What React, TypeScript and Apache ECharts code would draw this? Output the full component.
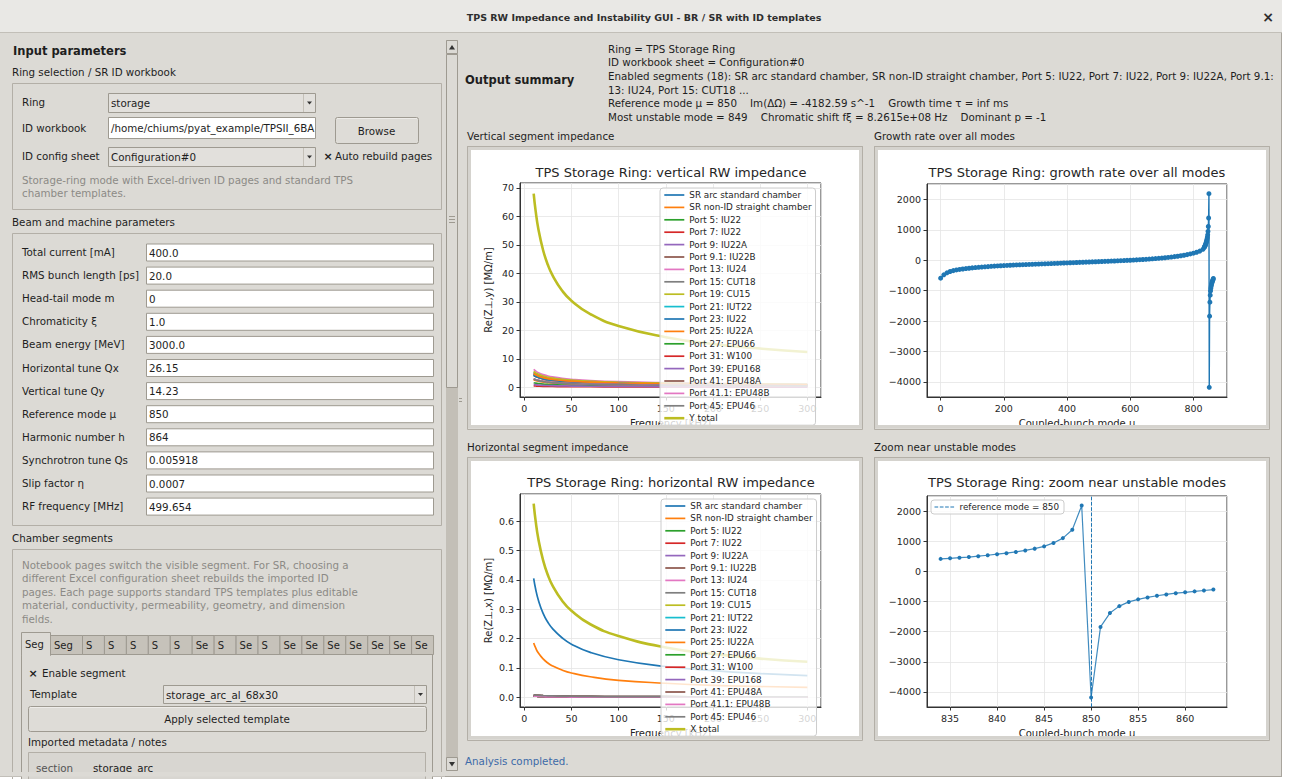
import React, { useEffect, useRef } from 'react';
import * as echarts from 'echarts';

const FONT = 'DejaVu Sans';
const BG = '#dcdad5';
const BORDER = '#9e9a91';
const FRAME = '#b3afa7';
const INK = '#1e1e1e';
const MUTED = '#8c8a86';
const AXIS_INK = '#262626';
const TAB10 = ['#1f77b4', '#ff7f0e', '#2ca02c', '#d62728', '#9467bd', '#8c564b', '#e377c2', '#7f7f7f', '#bcbd22', '#17becf'];

const WINDOW_TITLE = 'TPS RW Impedance and Instability GUI - BR / SR with ID templates';
const NB = '\u00a0';
const SUMMARY_LINES = [
  'Ring = TPS Storage Ring',
  'ID workbook sheet = Configuration#0',
  'Enabled segments (18): SR arc standard chamber, SR non-ID straight chamber, Port 5: IU22, Port 7: IU22, Port 9: IU22A, Port 9.1:',
  '13: IU24, Port 15: CUT18 ...',
  `Reference mode μ = 850${NB}${NB}${NB}${NB}Im(ΔΩ) = -4182.59 s^-1${NB}${NB}${NB}${NB}Growth time τ = inf ms`,
  `Most unstable mode = 849${NB}${NB}${NB}${NB}Chromatic shift fξ = 8.2615e+08 Hz${NB}${NB}${NB}${NB}Dominant p = -1`,
];
const BEAM_LABELS = ['Total current [mA]', 'RMS bunch length [ps]', 'Head-tail mode m', 'Chromaticity ξ', 'Beam energy [MeV]', 'Horizontal tune Qx', 'Vertical tune Qy', 'Reference mode μ', 'Harmonic number h', 'Synchrotron tune Qs', 'Slip factor η', 'RF frequency [MHz]'];
const BEAM_VALUES = ['400.0', '20.0', '0', '1.0', '3000.0', '26.15', '14.23', '850', '864', '0.005918', '0.0007', '499.654'];
const CHAMBER_NOTE = [
  'Notebook pages switch the visible segment. For SR, choosing a',
  'different Excel configuration sheet rebuilds the imported ID',
  'pages. Each page supports standard TPS templates plus editable',
  'material, conductivity, permeability, geometry, and dimension',
  'fields.',
];
const TAB_LABELS = ['Seg', 'Seg', 'S', 'S', 'S', 'S', 'S', 'Se', 'S', 'Se', 'S', 'Se', 'Se', 'Se', 'Se', 'Se', 'Se', 'Se'];

// ---- impedance data (frequency in kHz, MΩ/m) ----
const FREQ_KHZ = [10, 12, 15, 20, 25, 30, 40, 50, 70, 100, 150, 200, 250, 300];
const SEGMENT_NAMES = ['SR arc standard chamber', 'SR non-ID straight chamber', 'Port 5: IU22', 'Port 7: IU22', 'Port 9: IU22A', 'Port 9.1: IU22B', 'Port 13: IU24', 'Port 15: CUT18', 'Port 19: CU15', 'Port 21: IUT22', 'Port 23: IU22', 'Port 25: IU22A', 'Port 27: EPU66', 'Port 31: W100', 'Port 39: EPU168', 'Port 41: EPU48A', 'Port 41.1: EPU48B', 'Port 45: EPU46'];
const ZY_48 = [4.8, 4.38, 3.92, 3.39, 3.04, 2.77, 2.4, 2.15, 1.81, 1.52, 1.24, 1.07, 0.96, 0.88];
const ZY_26 = [2.6, 2.37, 2.12, 1.84, 1.64, 1.5, 1.3, 1.16, 0.98, 0.82, 0.67, 0.58, 0.52, 0.48];
const ZY_42 = [4.2, 3.83, 3.43, 2.97, 2.65, 2.42, 2.1, 1.88, 1.59, 1.33, 1.08, 0.94, 0.84, 0.77];
const ZY_63 = [6.3, 5.75, 5.14, 4.45, 3.98, 3.64, 3.15, 2.82, 2.38, 1.99, 1.63, 1.41, 1.26, 1.15];
const ZY_53 = [5.3, 4.84, 4.32, 3.75, 3.35, 3.06, 2.65, 2.37, 2.0, 1.67, 1.37, 1.19, 1.06, 0.97];
const ZY_56 = [5.6, 5.11, 4.57, 3.96, 3.54, 3.23, 2.8, 2.5, 2.12, 1.77, 1.44, 1.25, 1.12, 1.02];
const ZY_44 = [4.4, 4.02, 3.59, 3.11, 2.78, 2.54, 2.2, 1.97, 1.66, 1.39, 1.14, 0.99, 0.88, 0.81];
const ZY_16 = [1.6, 1.46, 1.31, 1.13, 1.01, 0.92, 0.8, 0.72, 0.6, 0.51, 0.41, 0.36, 0.32, 0.29];
const ZY_05 = [0.5, 0.46, 0.41, 0.35, 0.32, 0.29, 0.25, 0.22, 0.19, 0.16, 0.13, 0.11, 0.1, 0.09];
const ZY_10 = [1.0, 0.91, 0.82, 0.71, 0.63, 0.58, 0.5, 0.45, 0.38, 0.32, 0.26, 0.22, 0.2, 0.18];
const ZY_30 = [3.0, 2.74, 2.45, 2.12, 1.9, 1.73, 1.5, 1.34, 1.13, 0.95, 0.77, 0.67, 0.6, 0.55];
const ZY_29 = [2.9, 2.65, 2.37, 2.05, 1.83, 1.67, 1.45, 1.3, 1.1, 0.92, 0.75, 0.65, 0.58, 0.53];
const ZY_SEGMENTS = [ZY_48, ZY_26, ZY_42, ZY_42, ZY_48, ZY_48, ZY_63, ZY_53, ZY_56, ZY_44, ZY_42, ZY_48, ZY_16, ZY_05, ZY_10, ZY_30, ZY_30, ZY_29];
const ZY_TOTAL = [68.0, 62.1, 55.5, 48.1, 43.0, 39.3, 34.0, 30.4, 25.7, 21.5, 17.6, 15.2, 13.6, 12.4];
const ZX_ARC = [0.405, 0.37, 0.331, 0.286, 0.256, 0.234, 0.203, 0.181, 0.153, 0.128, 0.105, 0.091, 0.081, 0.074];
const ZX_NON_ID = [0.185, 0.169, 0.151, 0.131, 0.117, 0.107, 0.093, 0.083, 0.07, 0.058, 0.048, 0.041, 0.037, 0.034];
const ZX_ID_SMALL = [0.004, 0.0037, 0.0033, 0.0028, 0.0025, 0.0023, 0.002, 0.0018, 0.0015, 0.0013, 0.001, 0.0009, 0.0008, 0.0007];
const ZX_ID_WIDE = [0.008, 0.0073, 0.0065, 0.0057, 0.0051, 0.0046, 0.004, 0.0036, 0.003, 0.0025, 0.0021, 0.0018, 0.0016, 0.0015];
const ZX_SEGMENTS = [ZX_ARC, ZX_NON_ID, ZX_ID_SMALL, ZX_ID_SMALL, ZX_ID_SMALL, ZX_ID_WIDE, ZX_ID_SMALL, ZX_ID_WIDE, ZX_ID_SMALL, ZX_ID_SMALL, ZX_ID_SMALL, ZX_ID_SMALL, ZX_ID_SMALL, ZX_ID_SMALL, ZX_ID_SMALL, ZX_ID_WIDE, ZX_ID_SMALL, ZX_ID_WIDE];
const ZX_TOTAL = [0.66, 0.603, 0.539, 0.467, 0.417, 0.381, 0.33, 0.295, 0.249, 0.209, 0.17, 0.148, 0.132, 0.121];

// ---- growth rate data (s^-1) ----
const MODES_COARSE = [0, 10, 20, 30, 40, 50, 60, 70, 80, 90, 100, 110, 120, 130, 140, 150, 160, 170, 180, 190, 200, 210, 220, 230, 240, 250, 260, 270, 280, 290, 300, 310, 320, 330, 340, 350, 360, 370, 380, 390, 400, 410, 420, 430, 440, 450, 460, 470, 480, 490, 500, 510, 520, 530, 540, 550, 560, 570, 580, 590, 600, 610, 620, 630, 640, 650, 660, 670, 680, 690, 700, 710, 720, 730, 740, 750, 760, 770, 780, 790, 800, 810, 820, 830];
const GROWTH_COARSE = [-590, -480, -415, -372, -342, -320, -303, -288, -275, -263, -252, -242, -233, -225, -217, -210, -200, -194, -187, -181, -176, -170, -165, -160, -155, -151, -146, -142, -138, -134, -130, -126, -121, -117, -113, -109, -105, -101, -97, -92, -88, -84, -80, -75, -71, -67, -63, -58, -54, -50, -46, -41, -37, -33, -28, -24, -19, -14, -10, -5, 0, 6, 12, 18, 24, 31, 38, 46, 54, 63, 72, 82, 93, 105, 118, 132, 147, 165, 185, 208, 232, 262, 300, 360];
const MODES_ZOOM = [834, 835, 836, 837, 838, 839, 840, 841, 842, 843, 844, 845, 846, 847, 848, 849, 850, 851, 852, 853, 854, 855, 856, 857, 858, 859, 860, 861, 862, 863];
const GROWTH_ZOOM = [420, 440, 460, 480, 510, 540, 575, 610, 650, 700, 760, 835, 950, 1110, 1390, 2190, -4182.59, -1840, -1380, -1150, -1010, -925, -860, -805, -760, -720, -690, -660, -630, -600];
const REFERENCE_MODE = 850;

function buildGui(): any[] {
  const el: any[] = [];
  const T = (x: number, y: number, text: string, o: any = {}) =>
    el.push({
      type: 'text', x, y, z: o.z ?? -40, silent: true,
      style: {
        text, fontFamily: FONT, fontSize: o.size ?? 10.3, fontWeight: o.bold ? 'bold' : 'normal',
        fill: o.color ?? INK, align: o.align ?? 'left', verticalAlign: 'middle',
        ...(o.width ? { width: o.width, overflow: 'truncate', ellipsis: '' } : {}),
      },
    });
  const R = (x: number, y: number, w: number, h: number, fill: string, stroke: string | null = null, z = -60, r = 0) =>
    el.push({ type: 'rect', z, silent: true, shape: { x, y, width: w, height: h, r }, style: { fill, stroke, lineWidth: 1 } });
  const L = (x1: number, y1: number, x2: number, y2: number, color: string, z = -50, w = 1) =>
    el.push({ type: 'line', z, silent: true, shape: { x1, y1, x2, y2 }, style: { stroke: color, lineWidth: w } });
  const P = (points: number[][], fill: string, z = -40) => el.push({ type: 'polygon', z, silent: true, shape: { points }, style: { fill } });

  const combo = (x: number, y: number, w: number, h: number, text: string) => {
    R(x + 0.5, y + 0.5, w, h, '#e2e0dc', BORDER, -55);
    L(x + w - 11.5, y + 1, x + w - 11.5, y + h, '#c4c0b8', -50);
    const cy = y + h / 2 + 0.5;
    P([[x + w - 8, cy - 1.5], [x + w - 3, cy - 1.5], [x + w - 5.5, cy + 1.5]], '#333');
    T(x + 3, cy, text);
  };
  const entry = (x: number, y: number, w: number, h: number, text: string) => {
    R(x + 0.5, y + 0.5, w, h, '#ffffff', BORDER, -55);
    T(x + 3, y + h / 2 + 0.5, text, { width: w - 2 });
  };
  const button = (x: number, y: number, w: number, h: number, text: string) => {
    R(x + 0.5, y + 0.5, w, h, '#dedcd7', BORDER, -55, 2);
    L(x + 2, y + 1.5, x + w - 1, y + 1.5, '#eeece9', -50);
    T(x + w / 2, y + h / 2 + 0.5, text, { align: 'center' });
  };
  const check = (x: number, y: number) => T(x, y, '×', { bold: true, size: 11, align: 'center' });

  // window
  R(0, 0, 1292, 779, '#ffffff', null, -100);
  R(0, 0, 1282, 777, BG, null, -99);
  L(1281.5, 0, 1281.5, 777, '#a9a59d', -98);
  L(0, 776.5, 1282, 776.5, '#a9a59d', -98);
  R(0, 0, 1282, 32, '#e9e8e5', null, -98);
  L(0, 32.5, 1282, 32.5, '#c2bfb8', -97);
  T(644, 17, WINDOW_TITLE, { bold: true, size: 9.5, align: 'center', color: '#2e2e2e' });
  T(1268, 17, '×', { bold: true, size: 14, align: 'center', color: '#2e2e2e' });

  // left pane
  T(13, 51, 'Input parameters', { bold: true, size: 11.5 });
  T(12, 72, 'Ring selection / SR ID workbook');
  R(12.5, 83.5, 429, 126, 'none', FRAME, -60);
  T(22, 102, 'Ring');
  combo(108, 93, 207, 19, 'storage');
  T(22, 128, 'ID workbook');
  entry(108, 117, 207, 21, '/home/chiums/pyat_example/TPSII_6BA');
  button(335, 117, 83, 26, 'Browse');
  T(22, 156, 'ID config sheet');
  combo(108, 147, 207, 19, 'Configuration#0');
  check(328, 156);
  T(335, 156, 'Auto rebuild pages');
  T(22, 180, 'Storage-ring mode with Excel-driven ID pages and standard TPS', { color: MUTED });
  T(22, 193, 'chamber templates.', { color: MUTED });

  T(12, 222, 'Beam and machine parameters');
  R(12.5, 233.5, 429, 292, 'none', FRAME, -60);
  BEAM_LABELS.forEach((lab, i) => {
    const yc = 252 + i * 23.1;
    T(22, yc, lab);
    entry(146, yc - 8.5, 287, 17, BEAM_VALUES[i]);
  });

  T(12, 538, 'Chamber segments');
  R(12.5, 549.5, 429, 240, 'none', FRAME, -60);
  CHAMBER_NOTE.forEach((s, i) => T(22, 565 + i * 13.4, s, { color: MUTED }));

  // notebook
  R(21.5, 654.5, 411, 140, BG, BORDER, -58);
  let tx = 21;
  TAB_LABELS.forEach((lab, i) => {
    const w = i === 0 ? 29 : i === 1 ? 32 : 21.94;
    if (i === 0) {
      R(tx + 0.5, 632.5, w, 23, BG, BORDER, -56);
      L(tx + 1, 655, tx + w, 655, BG, -55, 2);
    } else {
      R(tx + 0.5, 635.5, w, 19, '#c6c2ba', BORDER, -57);
    }
    T(tx + 4, i === 0 ? 644 : 645.5, lab, { width: w - 6, size: 10 });
    tx += w;
  });
  check(33, 673);
  T(42, 673, 'Enable segment');
  T(30, 694, 'Template');
  combo(163, 685, 263, 18, 'storage_arc_al_68x30');
  button(28, 706, 398, 25, 'Apply selected template');
  T(28, 742, 'Imported metadata / notes');
  R(28.5, 752.5, 397, 40, '#d8d6d1', FRAME, -56);
  T(36, 768, 'section', { color: '#555' });
  T(93, 768, 'storage_arc');
  R(0, 772, 445, 4.5, BG, null, -30);

  // scrollbar + sash
  R(446, 40, 12, 731, '#c3bfb7', null, -60);
  R(446.5, 54.5, 11, 333, BG, BORDER, -55);
  [216.5, 219.5, 222.5].forEach((y) => L(449, y, 455, y, BORDER, -50));
  R(446.5, 40.5, 11, 13, BG, BORDER, -55);
  P([[449, 49.5], [455, 49.5], [452, 45]], '#333');
  R(446.5, 757.5, 11, 13, BG, BORDER, -55);
  P([[449, 762], [455, 762], [452, 766.5]], '#333');
  [398.5, 401.5].forEach((y) => L(459, y, 462, y, BORDER, -50));

  // right pane header
  T(465, 80, 'Output summary', { bold: true, size: 11.5 });
  const summaryY = [49, 62, 76, 90, 103, 117];
  SUMMARY_LINES.forEach((s, i) => T(608, summaryY[i], s));

  const frames = [
    { label: 'Vertical segment impedance', x: 467, y: 146, ly: 136 },
    { label: 'Growth rate over all modes', x: 874, y: 146, ly: 136 },
    { label: 'Horizontal segment impedance', x: 467, y: 457, ly: 447 },
    { label: 'Zoom near unstable modes', x: 874, y: 457, ly: 447 },
  ];
  const W = 396, H = 284;
  frames.forEach((f) => {
    T(f.x, f.ly, f.label);
    R(f.x + 0.5, f.y + 0.5, W - 1, H - 1, '#d5d3ce', FRAME, -60);
    R(f.x + 4, f.y + 4, W - 8, H - 8, '#ffffff', null, -50);
    // clip overflow below the figure
    R(f.x - 2, f.y + H - 4, W + 4, 14, BG, null, 100);
    R(f.x + 0.5, f.y + 0.5, W - 1, H - 1, 'none', FRAME, 101);
    L(f.x + 1, f.y + H - 3.5, f.x + W - 1, f.y + H - 3.5, '#d5d3ce', 101, 3);
  });
  T(465, 761, 'Analysis completed.', { color: '#3c6aa8' });
  return el;
}

const minus = (v: number) => (v < 0 ? '\u2212' + Math.abs(v) : String(v));

function valueAxis(gridIndex: number, min: number, max: number, step: number, o: any = {}) {
  const isY = !!o.y;
  return {
    type: 'value', gridIndex, min, max, minInterval: step, maxInterval: step, splitNumber: 6,
    name: o.name ?? '', nameLocation: 'middle', nameGap: isY ? 27 : 21, nameRotate: isY ? 90 : 0,
    nameTextStyle: { fontSize: 10, color: AXIS_INK, fontFamily: FONT },
    axisLine: { show: true, onZero: false, lineStyle: { color: '#333', width: 1 } },
    axisTick: { show: true, length: 3.5, lineStyle: { color: '#333', width: 1 } },
    axisLabel: { fontSize: 9.5, color: AXIS_INK, fontFamily: FONT, margin: 6, showMinLabel: false, showMaxLabel: false, formatter: o.fmt },
    splitLine: { show: true, lineStyle: { color: '#e4e4e4', width: 0.8 } },
  };
}

function impedanceSeries(axis: number, segs: number[][], totalName: string, total: number[]) {
  const s: any[] = SEGMENT_NAMES.map((name, i) => ({
    type: 'line', name, xAxisIndex: axis, yAxisIndex: axis, silent: true,
    data: FREQ_KHZ.map((f, j) => [f, segs[i][j]]),
    symbol: 'none', smooth: 0.5,
    lineStyle: { width: 1.7, color: TAB10[i % 10] }, itemStyle: { color: TAB10[i % 10] },
  }));
  s.push({
    type: 'line', name: totalName, xAxisIndex: axis, yAxisIndex: axis, silent: true,
    data: FREQ_KHZ.map((f, j) => [f, total[j]]),
    symbol: 'none', smooth: 0.5,
    lineStyle: { width: 2.6, color: TAB10[8] }, itemStyle: { color: TAB10[8] },
  });
  return s;
}

function legendBox(left: number, top: number, data: string[]) {
  return {
    orient: 'vertical', left, top, data, selectedMode: false,
    itemWidth: 20, itemHeight: 10, itemGap: 2.4, padding: [2, 4, 2, 3],
    itemStyle: { opacity: 0, borderWidth: 0 },
    lineStyle: { width: 'inherit' },
    backgroundColor: 'rgba(255,255,255,0.8)', borderColor: '#cccccc', borderWidth: 1, borderRadius: 3,
    textStyle: { fontSize: 8.8, color: AXIS_INK, lineHeight: 10, fontFamily: FONT },
  };
}

function chartTitle(text: string, left: number, top: number) {
  return { text, left, top, textAlign: 'center', padding: 0, textStyle: { fontSize: 13, fontWeight: 'normal', color: AXIS_INK, fontFamily: FONT } };
}

export default function App() {
  const ref = useRef<HTMLDivElement>(null);
  useEffect(() => {
    if (!ref.current) return;
    const chart = echarts.init(ref.current, undefined, { renderer: 'svg' });
    const C0 = TAB10[0];
    const growthAll = [...MODES_COARSE.map((m, i) => [m, GROWTH_COARSE[i]]), ...MODES_ZOOM.map((m, i) => [m, GROWTH_ZOOM[i]])];
    const option: any = {
      animation: false,
      textStyle: { fontFamily: FONT },
      title: [
        chartTitle('TPS Storage Ring: vertical RW impedance', 671, 166),
        chartTitle('TPS Storage Ring: growth rate over all modes', 1077, 166),
        chartTitle('TPS Storage Ring: horizontal RW impedance', 671, 476),
        chartTitle('TPS Storage Ring: zoom near unstable modes', 1077, 476),
      ],
      grid: [
        { left: 520, top: 183, width: 301, height: 214 },
        { left: 927, top: 184, width: 300, height: 213 },
        { left: 520, top: 494, width: 301, height: 213 },
        { left: 927, top: 496, width: 300, height: 211 },
      ].map((g) => ({ ...g, show: true, borderColor: '#333', borderWidth: 1, backgroundColor: 'transparent', containLabel: false })),
      xAxis: [
        valueAxis(0, -4.5, 314.5, 50, { name: 'Frequency [kHz]' }),
        valueAxis(1, -43.15, 906.15, 200, { name: 'Coupled-bunch mode μ' }),
        valueAxis(2, -4.5, 314.5, 50, { name: 'Frequency [kHz]' }),
        valueAxis(3, 832.55, 864.45, 5, { name: 'Coupled-bunch mode μ' }),
      ],
      yAxis: [
        valueAxis(0, -3.4, 71.7, 10, { y: true, name: 'Re(Z⊥,y) [MΩ/m]' }),
        valueAxis(1, -4501, 2509, 1000, { y: true, fmt: minus }),
        valueAxis(2, -0.033, 0.693, 0.1, { y: true, name: 'Re(Z⊥,x) [MΩ/m]', fmt: (v: number) => v.toFixed(1) }),
        valueAxis(3, -4501, 2509, 1000, { y: true, fmt: minus }),
      ],
      legend: [
        legendBox(660, 188, [...SEGMENT_NAMES, 'Y total']),
        legendBox(661, 499, [...SEGMENT_NAMES, 'X total']),
        { ...legendBox(931, 500, ['reference mode = ' + REFERENCE_MODE]), padding: [2, 5, 2, 3] },
      ],
      series: [
        ...impedanceSeries(0, ZY_SEGMENTS, 'Y total', ZY_TOTAL),
        ...impedanceSeries(2, ZX_SEGMENTS, 'X total', ZX_TOTAL),
        {
          type: 'line', name: 'growth', xAxisIndex: 1, yAxisIndex: 1, silent: true, data: growthAll,
          symbol: 'circle', symbolSize: 5, showSymbol: true,
          lineStyle: { width: 1.4, color: C0 }, itemStyle: { color: C0 },
        },
        {
          type: 'line', name: 'growth zoom', xAxisIndex: 3, yAxisIndex: 3, silent: true,
          data: MODES_ZOOM.map((m, i) => [m, GROWTH_ZOOM[i]]),
          symbol: 'circle', symbolSize: 4, showSymbol: true,
          lineStyle: { width: 1.2, color: C0, opacity: 0.85 }, itemStyle: { color: C0 },
        },
        {
          type: 'line', name: 'reference mode = ' + REFERENCE_MODE, xAxisIndex: 3, yAxisIndex: 3, silent: true, data: [],
          symbol: 'none', lineStyle: { width: 1, color: C0, type: [3.7, 1.6] }, itemStyle: { color: C0 },
          markLine: {
            silent: true, symbol: ['none', 'none'], label: { show: false },
            lineStyle: { width: 1, color: C0, type: [3.7, 1.6] },
            data: [{ xAxis: REFERENCE_MODE }],
          },
        },
      ],
      graphic: { elements: buildGui() },
    };
    chart.setOption(option);
    return () => chart.dispose();
  }, []);
  return <div ref={ref} style={{ position: 'absolute', left: 0, top: 0, width: 1292, height: 779 }} />;
}
